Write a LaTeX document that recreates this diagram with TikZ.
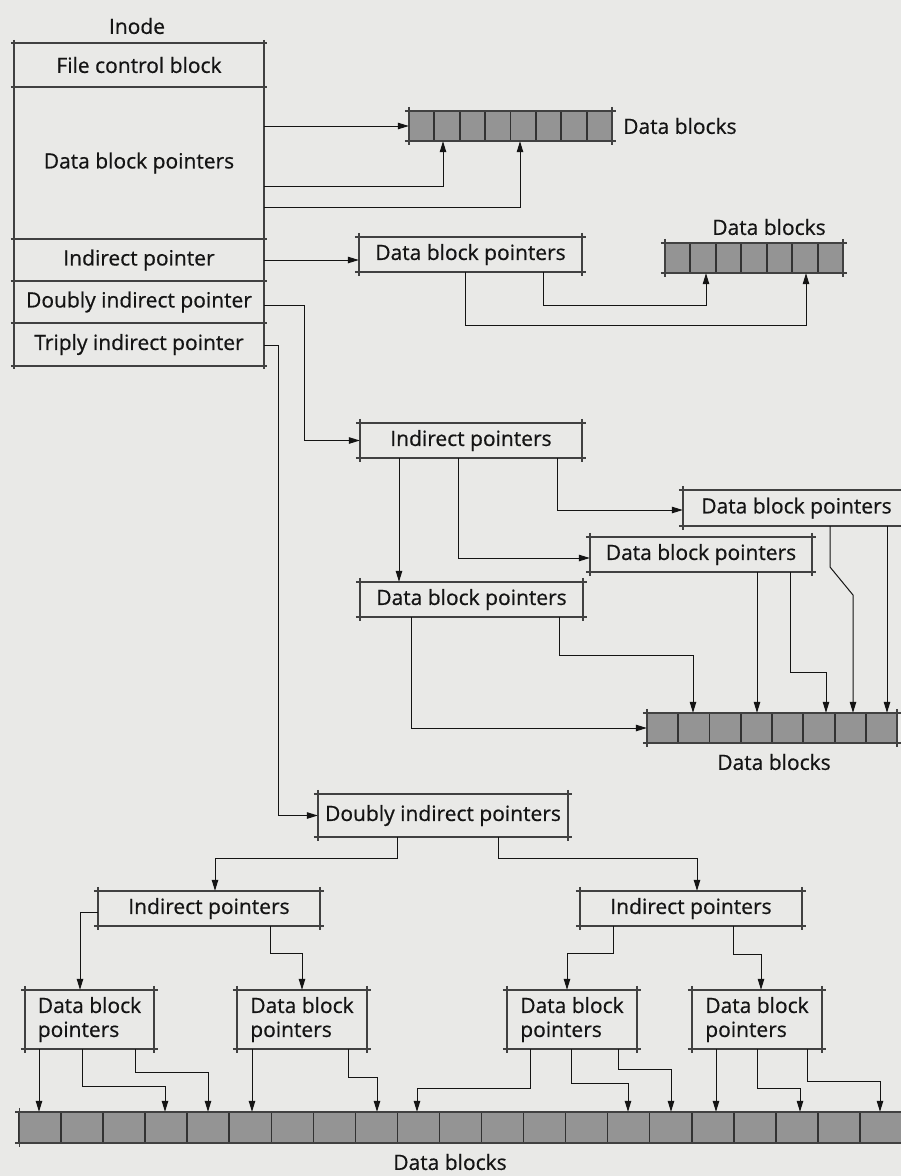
\documentclass[tikz,border=0pt]{standalone}
\usepackage{fontspec}
\setmainfont{Open Sans}
\newfontfamily\lblfont{Open Sans}[FakeBold=0.6]
\usetikzlibrary{arrows.meta,fit,calc}
\definecolor{bg}{RGB}{233,233,231}
\definecolor{ink}{RGB}{20,20,20}
\definecolor{boxline}{RGB}{65,65,65}
\definecolor{cellfill}{RGB}{148,148,148}
\definecolor{cellline}{RGB}{50,50,50}
\tikzset{
  lbl/.style={font=\lblfont\fontsize{21}{24}\selectfont, text=ink, inner sep=0pt, align=left},
  pbox/.style={inner sep=0pt},
  arrnode/.style={inner sep=0pt},
  bl/.style={draw=boxline, line width=1.6pt},
  conn/.style={draw=ink, line width=1pt, -{Triangle[length=11pt,width=6.5pt]}},
  divln/.style={draw=cellline, line width=1.8pt},
}
\newcommand\pbxlines[2]{%
  \draw[bl] ([xshift=-#2pt]#1.north west) -- ([xshift=#2pt]#1.north east);
  \draw[bl] ([xshift=-#2pt]#1.south west) -- ([xshift=#2pt]#1.south east);
  \draw[bl] ([yshift=#2pt]#1.north west) -- ([yshift=-#2pt]#1.south west);
  \draw[bl] ([yshift=#2pt]#1.north east) -- ([yshift=-#2pt]#1.south east);
}
\newcommand\pcells[2]{%
  \fill[cellfill] (#1.south west) rectangle (#1.north east);
  \foreach \i in {1,...,#2} {\draw[divln] ($(#1.north west)!{(\i-1)/#2}!(#1.north east)$) -- ($(#1.south west)!{(\i-1)/#2}!(#1.south east)$);}
  \draw[divln] (#1.north east) -- (#1.south east);
  \pbxlines{#1}{4}
}
% box: name, x1, y1, x2, y2, text
\newcommand\pbx[6]{%
  \node[pbox, fit={(#2,#3)(#4,#5)}] (#1) {};
  \pbxlines{#1}{4}
  \node[lbl] (#1-t) at (#1.center) {#6};
}
\begin{document}
\begin{tikzpicture}[x=1pt,y=-1pt]
\fill[bg] (0,0) rectangle (901,1176);
\useasboundingbox (0,0) rectangle (901,1176);

% ---------- inode ----------
\node[lbl] (inodelbl) at (137,26) {Inode};
\node[pbox, fit={(14,43)(264,87)}] (fcb) {};
\node[pbox, fit={(14,87)(264,239)}] (dbpr) {};
\node[pbox, fit={(14,239)(264,281)}] (ipr) {};
\node[pbox, fit={(14,281)(264,323)}] (dipr) {};
\node[pbox, fit={(14,323)(264,366)}] (tipr) {};
\foreach \n in {fcb,dbpr,ipr,dipr,tipr} {\pbxlines{\n}{3}}
\node[lbl] (fcb-t) at (fcb.center) {File control block};
\node[lbl] (dbpr-t) at (dbpr.center) {Data block pointers};
\node[lbl] (ipr-t) at (ipr.center) {Indirect pointer};
\node[lbl] (dipr-t) at (dipr.center) {Doubly indirect pointer};
\node[lbl] (tipr-t) at (tipr.center) {Triply indirect pointer};

% ---------- top level ----------
\node[arrnode, fit={(409,111)(612,141)}] (arr1) {};
\pcells{arr1}{8}
\node[lbl, anchor=west] (arr1lbl) at (623,126) {Data blocks};
\pbx{dbpA}{359}{237}{582}{272}{Data block pointers}
\node[arrnode, fit={(665,243)(843,273)}] (arr2) {};
\pcells{arr2}{7}
\node[lbl] (arr2lbl) at (769,227) {Data blocks};

% ---------- single indirect tree ----------
\pbx{ipA}{360}{423}{582}{458}{Indirect pointers}
\pbx{dbpD}{683}{490}{910}{526}{Data block pointers}
\pbx{dbpC}{590}{537}{812}{572}{Data block pointers}
\pbx{dbpB}{360}{582}{583}{617}{Data block pointers}
\node[arrnode, fit={(647,713)(897,743)}] (arr3) {};
\pcells{arr3}{8}
\node[lbl] (arr3lbl) at (774,762) {Data blocks};

% ---------- doubly indirect tree ----------
\pbx{dipB}{318}{794}{568}{837}{Doubly indirect pointers}
\pbx{ipB}{98}{891}{320}{926}{Indirect pointers}
\pbx{ipC}{580}{891}{802}{926}{Indirect pointers}
\pbx{dbp1}{25}{990}{154}{1049}{Data block\\pointers}
\pbx{dbp2}{237}{990}{367}{1049}{Data block\\pointers}
\pbx{dbp3}{507}{990}{637}{1049}{Data block\\pointers}
\pbx{dbp4}{692}{990}{822}{1049}{Data block\\pointers}
\node[arrnode, fit={(19.5,1112)(901.5,1143)}] (arr4) {};
\pcells{arr4}{21}
\node[lbl] (arr4lbl) at (450,1162) {Data blocks};

% ---------- connectors: inode ----------
\draw[conn] (dbpr.east |- arr1.west) -- (arr1.west);
\draw[conn] (dbpr.east |- 0,186) -| (443,0 |- arr1.south);
\draw[conn] (dbpr.east |- 0,207) -| (520,0 |- arr1.south);
\draw[conn] (ipr.east) -- (dbpA.west |- ipr.east);
\draw[conn] (dipr.east |- 0,305) -| (304,0 |- ipA.west) -- (ipA.west);
\draw[conn] (tipr.east |- 0,345) -| (278,0 |- dipB.west) -- (dipB.west);

% ---------- connectors: top data block pointers ----------
\draw[conn] (465,0 |- dbpA.south) -- (465,325) -| (806,0 |- arr2.south);
\draw[conn] (543,0 |- dbpA.south) -- (543,305) -| (706,0 |- arr2.south);

% ---------- connectors: single indirect ----------
\draw[conn] (399,0 |- ipA.south) -- (399,0 |- dbpB.north);
\draw[conn] (458,0 |- ipA.south) |- (dbpC.west |- 0,558);
\draw[conn] (557,0 |- ipA.south) |- (dbpD.west |- 0,510);
\draw[conn] (411,0 |- dbpB.south) |- (arr3.west);
\draw[conn] (559,0 |- dbpB.south) -- (559,655) -| (693,0 |- arr3.north);
\draw[conn] (757,0 |- dbpC.south) -- (757,0 |- arr3.north);
\draw[conn] (790,0 |- dbpC.south) -- (790,672) -| (826,0 |- arr3.north);
\draw[conn] (830,0 |- dbpD.south) -- (830,567) -- (853,595) -- (853,0 |- arr3.north);
\draw[conn] (887,0 |- dbpD.south) -- (887,0 |- arr3.north);

% ---------- connectors: doubly indirect ----------
\draw[conn] (397,0 |- dipB.south) -- (397,858) -| (215,0 |- ipB.north);
\draw[conn] (498,0 |- dipB.south) -- (498,858) -| (697,0 |- ipC.north);
\draw[conn] (ipB.west |- 0,912) -| (80,0 |- dbp1.north);
\draw[conn] (270,0 |- ipB.south) -- (270,953) -| (302,0 |- dbp2.north);
\draw[conn] (613,0 |- ipC.south) -- (613,953) -| (567,0 |- dbp3.north);
\draw[conn] (733,0 |- ipC.south) -- (733,954) -| (761,0 |- dbp4.north);

% ---------- connectors: to bottom data blocks ----------
\draw[conn] (39,0 |- dbp1.south) -- (39,0 |- arr4.north);
\draw[conn] (82,0 |- dbp1.south) -- (82,1086) -| (165,0 |- arr4.north);
\draw[conn] (135,0 |- dbp1.south) -- (135,1072) -| (208,0 |- arr4.north);
\draw[conn] (252,0 |- dbp2.south) -- (252,0 |- arr4.north);
\draw[conn] (348,0 |- dbp2.south) -- (348,1077) -| (377,0 |- arr4.north);
\draw[conn] (530,0 |- dbp3.south) -- (530,1088) -| (417,0 |- arr4.north);
\draw[conn] (571,0 |- dbp3.south) -- (571,1083) -| (628,0 |- arr4.north);
\draw[conn] (618,0 |- dbp3.south) -- (618,1069) -| (671,0 |- arr4.north);
\draw[conn] (716,0 |- dbp4.south) -- (716,0 |- arr4.north);
\draw[conn] (757,0 |- dbp4.south) -- (757,1088) -| (800,0 |- arr4.north);
\draw[conn] (807,0 |- dbp4.south) -- (807,1081) -| (880,0 |- arr4.north);
\end{tikzpicture}
\end{document}
